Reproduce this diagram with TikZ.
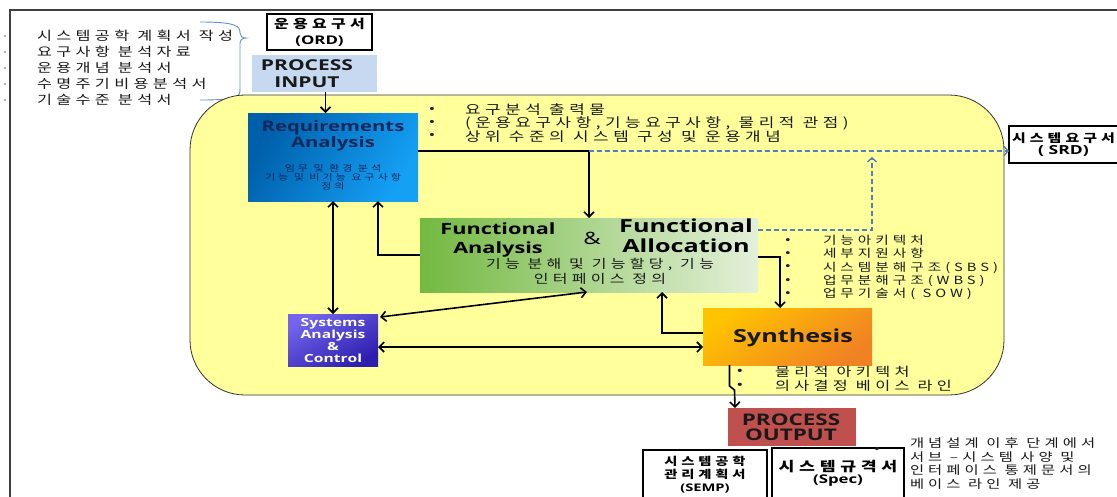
\documentclass[tikz,border=0pt]{standalone}
\usepackage{fontspec}
\usetikzlibrary{arrows.meta,calc}
\setmainfont{Open Sans}[FakeStretch=1.4]
\newfontfamily\kr{Noto Sans CJK KR}[FakeStretch=1.3,LetterSpace=35]
\definecolor{ylw}{RGB}{255,255,155}
\definecolor{pinblue}{RGB}{198,217,241}
\definecolor{dashblue}{RGB}{79,129,189}
\definecolor{navy}{RGB}{20,40,90}
\definecolor{outred}{RGB}{192,80,77}
\definecolor{bracec}{RGB}{100,145,200}
\definecolor{txt}{RGB}{25,25,25}
\definecolor{reqdark}{RGB}{0,95,170}
\definecolor{reqlight}{RGB}{20,160,245}
\definecolor{grdark}{RGB}{115,185,65}
\definecolor{grlight}{RGB}{228,240,218}
\definecolor{ordark}{RGB}{240,130,35}
\definecolor{orlight}{RGB}{255,195,0}
\definecolor{sylight}{RGB}{115,100,235}
\definecolor{sydark}{RGB}{45,30,175}
\begin{document}
\begin{tikzpicture}[x=1pt,y=-1pt,
  every node/.style={inner sep=0pt, outer sep=0pt},
  doc/.style={draw=black, line width=1.1pt, fill=white, align=center, font=\bfseries},
  arr/.style={line width=1.6pt, -{Straight Barb[length=5pt,width=10pt]}},
  darr/.style={line width=1.6pt, {Straight Barb[length=5pt,width=10pt]}-{Straight Barb[length=5pt,width=10pt]}},
  dsh/.style={draw=dashblue, line width=1.4pt, dash pattern=on 5pt off 3pt, -{Straight Barb[length=4pt,width=9pt]}},
  lbl/.style={align=left, text=txt},
  bul/.style={align=center, text=txt},
]
\useasboundingbox (0,0) rectangle (1117,496);
\fill[white] (0,0) rectangle (1117,496);
\draw[line width=1.6pt, black!75] (10,500) -- (10,10) -- (1120,10);

% left list
\node[lbl, anchor=west, font=\kr\fontsize{12.5}{16}\selectfont] (lst) at (37,68)
  {시스템공학 계획서 작성\\요구사항 분석자료\\운용개념 분석서\\수명주기비용분석서\\기술수준 분석서};
\foreach \yy in {36,52,68,84,100} \fill[black!60] (5,\yy) circle (0.9pt);
\draw[bracec, line width=0.9pt] (200,22) .. controls (236,22) and (240,26) .. (240,33)
  .. controls (240,36) and (242,38) .. (246,38) .. controls (242,38) and (240,40) .. (240,44)
  -- (240,90) .. controls (240,97) and (236,100) .. (200,100);

% top documents
\node[doc, minimum width=105pt, minimum height=36pt, font=\bfseries\fontsize{12}{16}\selectfont] (ord) at (319.5,32)
  {{\kr\fontsize{12.3}{16}\selectfont 운용요구서}\\(ORD)};
\node[fill=pinblue, minimum width=125pt, minimum height=37pt] (pin) at (314.5,73.5) {};
\node[align=center, text=txt, font=\bfseries\fontsize{15}{17}\selectfont] (pint) at (307,73.5) {PROCESS\\INPUT};

% stage
\node[fill=ylw, draw=black!80, line width=0.8pt, rounded corners=55pt, minimum width=814pt, minimum height=300pt] (stage) at (597,245) {};

% requirements
\node[minimum width=170pt, minimum height=88pt, left color=reqdark, right color=reqlight, shading angle=60] (req) at (333,157) {};
\node[align=center, text=navy, font=\bfseries\fontsize{14.5}{16}\selectfont] (reqt) at (333,136) {Requirements\\Analysis};
\node[align=center, text=navy, font=\kr\fontsize{8.5}{9}\selectfont] (reqk) at (333,177) {임무 및 환경 분석\\기능 및 비기능 요구사항\\정의};

% functional
\node[minimum width=338pt, minimum height=74pt, left color=grdark, right color=grlight] (func) at (589,255) {};
\node[align=center, font=\bfseries\fontsize{15.5}{19}\selectfont] (fa1) at (498,240) {Functional\\Analysis};
\node[font=\fontsize{17}{17}\selectfont] (famp) at (592,238) {\&};
\node[align=center, font=\bfseries\fontsize{18}{20}\selectfont] (fa2) at (686,236) {Functional\\Allocation};
\node[align=center, text=txt, font=\kr\fontsize{12.3}{15.5}\selectfont] (fak) at (600,271.5) {기능 분해 및 기능할당, 기능\\인터페이스 정의};

% systems analysis
\node[minimum width=90pt, minimum height=52pt, top color=sylight, bottom color=sydark, shading angle=30] (sys) at (333,340) {};
\node[align=center, text=white, font=\bfseries\fontsize{11.2}{11.7}\selectfont] (syst) at (333,340.5) {Systems\\Analysis\\\&\\Control};

% synthesis
\node[minimum width=169pt, minimum height=57pt, top color=orlight, bottom color=ordark, shading angle=35] (syn) at (787.5,336.5) {};
\node[font=\bfseries\fontsize{18}{18}\selectfont, text=black!90] (synt) at (793,338) {Synthesis};

% outputs
\node[fill=outred, minimum width=128pt, minimum height=38pt] (pout) at (792,427) {};
\node[align=center, text=txt, font=\bfseries\fontsize{16}{15}\selectfont] (poutt) at (791,427.5) {PROCESS\\OUTPUT};
\node[doc, minimum width=109pt, minimum height=37pt, font=\bfseries\fontsize{12.5}{12}\selectfont] (srd) at (1063.5,144.5)
  {{\kr\fontsize{11.5}{12}\selectfont 시스템요구서}\\( SRD)};
\node[doc, minimum width=124pt, minimum height=50pt, font=\bfseries\fontsize{10.5}{13}\selectfont] (semp) at (705,475)
  {{\kr\fontsize{11}{13}\selectfont 시스템공학}\\{\kr\fontsize{11}{13}\selectfont 관리계획서}\\(SEMP)};
\node[doc, minimum width=132pt, minimum height=50pt, font=\bfseries\fontsize{12}{12}\selectfont] (spec) at (838,473)
  {{\kr\fontsize{13.3}{13}\selectfont 시스템규격서}\\(Spec)};

% bullet lists
\node[lbl, anchor=west, font=\kr\fontsize{13}{13}\selectfont] (rqo) at (465,123)
  {요구분석 출력물\\(운용요구사항,기능요구사항, 물리적 관점)\\상위 수준의 시스템 구성 및  운용개념};
\node[bul, font=\kr\fontsize{12}{13}\selectfont] (rqob) at (432,123) {•\\•\\•};
\node[lbl, anchor=west, font=\kr\fontsize{11.3}{13.25}\selectfont] (fal) at (823,267.5)
  {기능아키텍처\\세부지원사항\\시스템분해구조(SBS)\\업무분해구조(WBS)\\업무기술서( SOW)};
\node[bul, font=\kr\fontsize{11.5}{13.25}\selectfont] (falb) at (788,267.5) {•\\•\\•\\•\\•};
\node[lbl, anchor=west, font=\kr\fontsize{12.5}{14}\selectfont] (snl) at (775,379)
  {물리적 아키텍처\\의사결정 베이스 라인};
\node[bul, font=\kr\fontsize{12.5}{14}\selectfont] (snlb) at (740,379) {•\\•};
\node[lbl, anchor=west, font=\kr\fontsize{11.8}{13.7}\selectfont] (outl) at (910,463.5)
  {개념설계 이후 단계에서\\서브 –시스템 사양 및\\인터페이스 통제문서의\\베이스 라인 제공};
\node[bul, font=\kr\fontsize{12}{12}\selectfont] (outb) at (877,450) {•};

% connectors
\coordinate (rqout) at ($(req.east)+(0,-6)$);
\coordinate (fcorner) at (func.north |- rqout);
\coordinate (pinA) at ($(pin.south)+(11,0)$);
\coordinate (sysE) at ($(sys.east)+(0,7)$);
\coordinate (dtop) at ($(syn.east |- rqout)+(0,6)$);
\draw[arr] (pinA) -- (pinA |- req.north);
\draw[arr] (rqout) -| (func.north);
\draw[dsh] (fcorner) -- (srd.west |- rqout);
\draw[dsh] ($(func.east)+(0,-25)$) -| (dtop);
\draw[darr] (req.south) -- (sys.north);
\draw[arr] (func.west) -| ($(req.south)+(45,0)$);
\draw[darr] ($(sys.north east)+(2,3)$) -- ($(func.south)+(-2,0)$);
\draw[darr] (sysE) -- (sysE -| syn.west);
\draw[arr] ($(syn.west)+(0,-3.5)$) -| ($(func.south)+(73,0)$);
\draw[arr] ($(func.east)+(0,2)$) -| ($(syn.north)+(-7.5,0)$);
\draw[arr] ($(syn.south)+(-58,0)$) -- ++(0,21) -- ++(5,4) -- ($(pout.north)+(-57,0)$);
\end{tikzpicture}
\end{document}
